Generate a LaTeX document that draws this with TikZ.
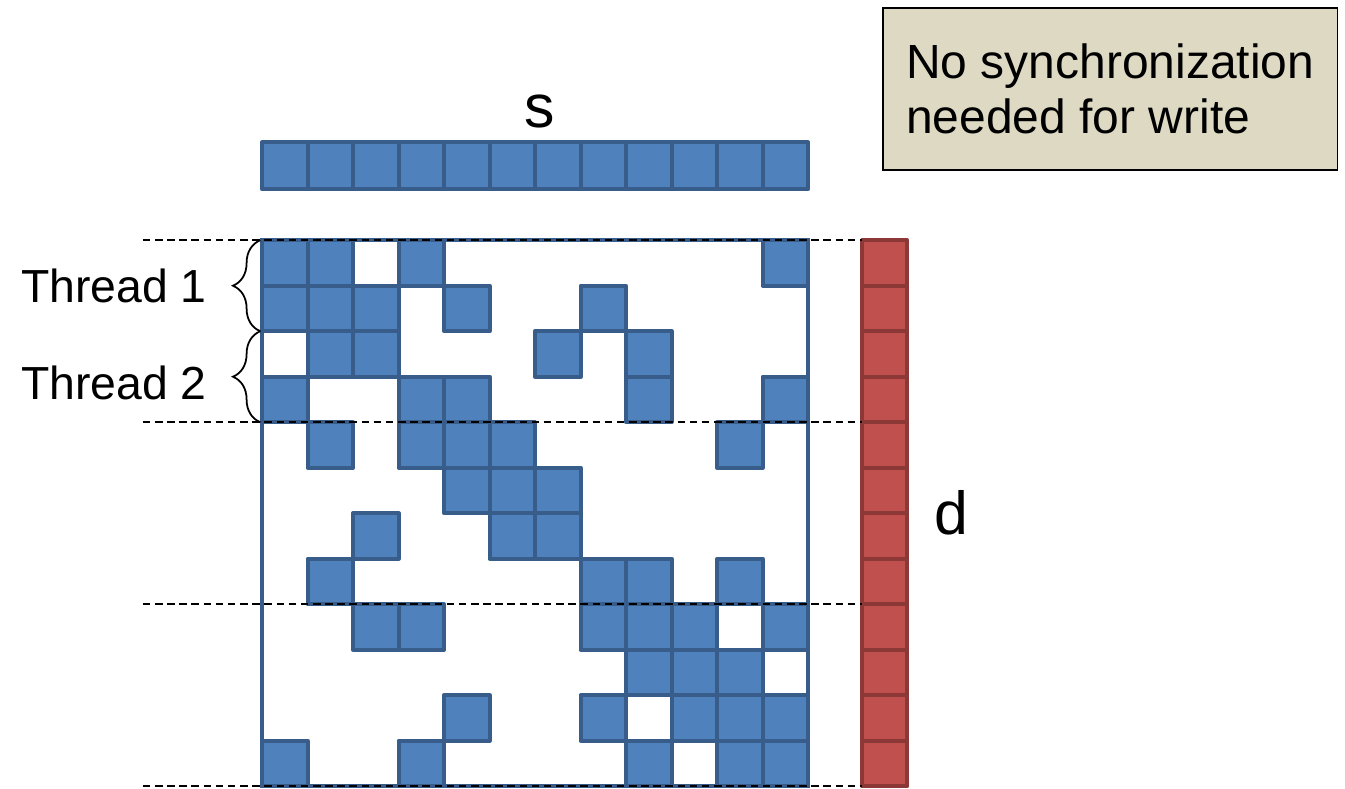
\documentclass[tikz,border=0pt]{standalone}
\usepackage{fontspec}
\setmainfont{Liberation Sans}
\usetikzlibrary{decorations.pathreplacing}

\definecolor{cellfill}{HTML}{4F81BD}
\definecolor{celledge}{HTML}{385D8A}
\definecolor{dfill}{HTML}{C0504D}
\definecolor{dedge}{HTML}{8C3836}
\definecolor{notefill}{HTML}{DDD9C3}

\begin{document}
\begin{tikzpicture}[
    cell/.style={fill=cellfill, draw=celledge, line width=2.5pt, line join=round},
    dcell/.style={fill=dfill, draw=dedge, line width=2.5pt, line join=round},
    sepline/.style={dash pattern=on 4.7pt off 2.9pt, line width=1.2pt},
    thread/.style={decorate, decoration={brace, amplitude=0.6cm}, line width=1.1pt},
    lbl/.style={inner sep=0pt, font=\fontsize{29}{34}\selectfont},
    big/.style={inner sep=0pt, font=\fontsize{38}{40}\selectfont},
    note/.style={draw, fill=notefill, line width=0.9pt, minimum width=9.98cm,
                 minimum height=3.56cm, align=left, font=\fontsize{30}{34.3}\selectfont}
  ]
    \useasboundingbox (-5.76,-12.05) rectangle (23.8,5.28);

    \coordinate (M0) at (0,0);
    \coordinate (M2) at (12,-12);

    \coordinate (B0) at (-0.04,0);
    \coordinate (B1) at (-0.04,-2);
    \coordinate (B2) at (-0.04,-4);

    % matrix frame and its non-zero entries
    \draw [celledge, line width=2.5pt] (M0) rectangle (M2);
    \foreach \r/\cols in {0/{0,1,3,11}, 1/{0,1,2,4,7}, 2/{1,2,6,8}, 3/{0,3,4,8,11},
                          4/{1,3,4,5,10}, 5/{4,5,6}, 6/{2,5,6}, 7/{1,7,8,10},
                          8/{2,3,7,8,9,11}, 9/{8,9,10}, 10/{4,7,9,10,11}, 11/{0,3,8,10,11}}
      \foreach \c in \cols
        \draw [cell] (\c,-\r) rectangle ++(1,-1);

    % source vector s and destination vector d
    \foreach \c in {0,...,11}
      \draw [cell] (\c,1.12) rectangle ++(1,1.03);
    \foreach \r in {0,...,11}
      \draw [dcell] (13.19,-\r) rectangle ++(0.99,-1);

    \foreach \r in {0,4,8,12}
      \draw [sepline] (-2.62,-\r) -- (13.19,-\r);

    \draw [thread] (B1) -- (B0);
    \draw [thread] (B2) -- (B1);

    \node [lbl, anchor=east] (t1) at (-1.21,-1.0) {Thread 1};
    \node [lbl, anchor=east] (t2) at (-1.21,-3.13) {Thread 2};
    \node [big] (s) at (6.1,2.84) {s};
    \node [big] (d) at (15.14,-6.0) {d};

    \node [note] (msg) at (18.64,3.32) {No synchronization\\needed for write};

\end{tikzpicture}
\end{document}
